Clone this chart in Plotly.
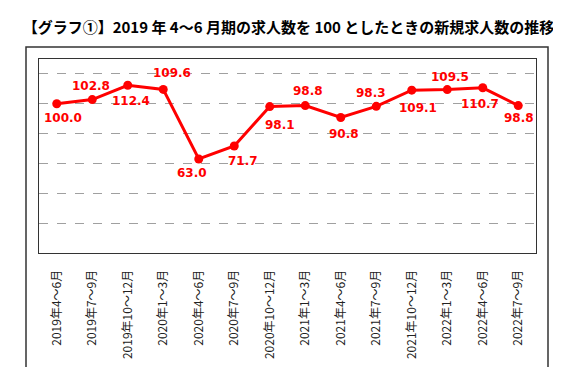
import plotly.graph_objects as go

categories = ["2019年4～6月", "2019年7～9月", "2019年10～12月", "2020年1～3月",
              "2020年4～6月", "2020年7～9月", "2020年10～12月", "2021年1～3月",
              "2021年4～6月", "2021年7～9月", "2021年10～12月", "2022年1～3月",
              "2022年4～6月", "2022年7～9月"]
values = [100.0, 102.8, 112.4, 109.6, 63.0, 71.7, 98.1, 98.8, 90.8, 98.3,
          109.1, 109.5, 110.7, 98.8]
title_text = "【グラフ①】2019 年 4～6 月期の求人数を 100 としたときの新規求人数の推移"

# label offsets (style): (xshift, yshift) in px
label_shift = [(6, -14), (-1, 14), (3, -16), (9, 16), (-7, -14), (9, -15),
               (10, -18), (3, 15), (3, -16), (-5, 13), (6, -18), (3, 13),
               (-3, -16), (1, -12)]

RED = "#FF0000"
fig = go.Figure()
fig.add_trace(go.Scatter(
    x=list(range(len(categories))), y=values, mode="lines+markers",
    line=dict(color=RED, width=3), marker=dict(color=RED, size=9),
    hoverinfo="skip", showlegend=False))

for i, (v, (dx, dy)) in enumerate(zip(values, label_shift)):
    fig.add_annotation(x=i, y=v, text=f"<b>{v:.1f}</b>", showarrow=False,
                       xshift=dx, yshift=dy,
                       font=dict(family="DejaVu Sans", size=12, color=RED))

L, R, T, B = 31, 33, 51, 122
W, H = 561, 367
pw, ph = W - L - R, H - T - B
fig.add_shape(type="rect", xref="paper", yref="paper",
              x0=(18 - L) / pw, x1=(540 - L) / pw,
              y0=((H - B) - 365) / ph, y1=((H - B) - 39) / ph,
              line=dict(color="#333333", width=1.5), layer="below")

fig.update_layout(
    width=W, height=H, margin=dict(l=L, r=R, t=T, b=B),
    paper_bgcolor="white", plot_bgcolor="white",
    title=dict(text=f"<b>{title_text}</b>", x=0.5, xanchor="center",
               y=1 - 20 / H, yanchor="middle",
               font=dict(family="Noto Sans CJK JP", size=15, color="black")),
    xaxis=dict(tickmode="array", tickvals=list(range(len(categories))),
               ticktext=categories, range=[-0.5, len(categories) - 0.5],
               tickangle=-90, showgrid=False, zeroline=False,
               showline=True, linecolor="#333333", linewidth=1, mirror=True,
               ticks="outside", ticklen=11, tickcolor="rgba(0,0,0,0)",
               tickfont=dict(family="Noto Sans CJK JP", size=12, color="#222222")),
    yaxis=dict(range=[0, 130], dtick=20, tick0=0, showticklabels=False,
               showgrid=True, gridcolor="#A0A0A0", griddash="dash", gridwidth=1,
               zeroline=False, showline=True, linecolor="#333333", linewidth=1,
               mirror=True),
)
fig.write_html("out.html")
